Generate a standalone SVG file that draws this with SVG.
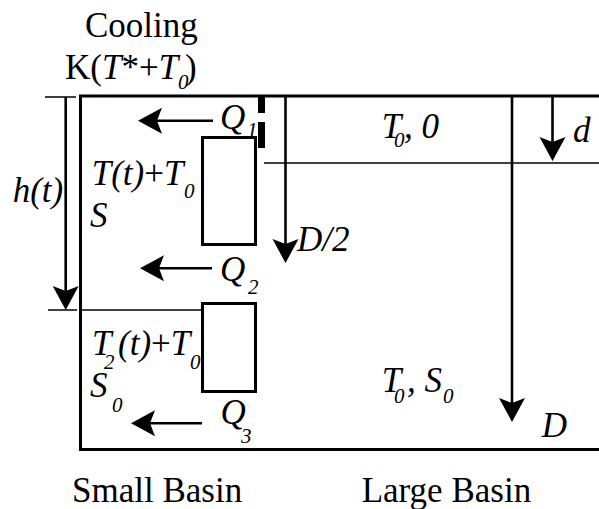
<svg xmlns="http://www.w3.org/2000/svg" width="599" height="509" viewBox="0 0 599 509" font-family="Liberation Serif, serif">
<defs>
<marker id="ah" markerUnits="userSpaceOnUse" viewBox="-15 -15 30 30" markerWidth="30" markerHeight="30" refX="0" refY="0" orient="auto">
<path d="M12,0 L-12,-13 L-7,0 L-12,13 Z" fill="#000"/>
</marker>
</defs>
<rect width="599" height="509" fill="#fff"/>

<g id="basin" fill="none" stroke="#000">
<path stroke-width="3" d="M599,96 H80.5 V449.5 H599"/>
<line stroke-width="1.5" x1="80" y1="310" x2="202" y2="310"/>
<line stroke-width="1.5" x1="264" y1="163" x2="599" y2="163"/>
</g>

<g id="upper-block">
<rect stroke="#000" stroke-width="3" x="202.5" y="137.5" width="53" height="107" fill="#fff"/>
</g>
<g id="lower-block">
<rect stroke="#000" stroke-width="3" x="202.5" y="303.5" width="53" height="88" fill="#fff"/>
</g>
<g id="gate" fill="#000">
<rect x="258" y="96" width="7" height="17"/>
<rect x="258" y="122" width="7" height="26"/>
</g>

<g id="connectors" fill="none" stroke="#000" stroke-width="2.6">
<line marker-end="url(#ah)" x1="65.7" y1="97" x2="65.7" y2="298"/>
<line stroke-width="1.5" x1="45" y1="97" x2="76" y2="97"/>
<line stroke-width="1.5" x1="48" y1="310" x2="77" y2="310"/>
<line marker-end="url(#ah)" x1="213" y1="120.7" x2="150" y2="120.7"/>
<line marker-end="url(#ah)" x1="212" y1="268.3" x2="152" y2="268.3"/>
<line marker-end="url(#ah)" x1="202" y1="423.3" x2="143" y2="423.3"/>
<line marker-end="url(#ah)" x1="285.5" y1="96" x2="285.5" y2="251"/>
<line marker-end="url(#ah)" x1="512" y1="96" x2="512" y2="410"/>
<line marker-end="url(#ah)" x1="552.5" y1="96" x2="552.5" y2="149"/>
</g>

<g id="cooling-label">
<text style="font-family:'Liberation Serif',serif" font-size="35" x="85" y="36.5">Cooling</text>
<text style="font-family:'Liberation Serif',serif" font-size="35" x="65" y="78.5">K(<tspan font-style="italic">T</tspan>*+<tspan font-style="italic">T</tspan><tspan font-size="21" font-style="italic" x="178" y="89">0</tspan><tspan x="185" y="78.5">)</tspan></text>
</g>

<g id="small-basin-upper">
<text style="font-family:'Liberation Serif',serif" font-size="35" font-style="italic" x="12.7" y="201.7">h(t)</text>
<text style="font-family:'Liberation Serif',serif" font-size="35" x="91.7" y="185"><tspan font-style="italic">T(t)</tspan>+<tspan font-style="italic">T</tspan><tspan font-size="21" font-style="italic" x="184" y="198">0</tspan></text>
<text style="font-family:'Liberation Serif',serif" font-size="35" font-style="italic" x="90" y="227.3">S</text>
<text style="font-family:'Liberation Serif',serif" font-size="35" font-style="italic" x="220" y="129">Q</text>
<text style="font-family:'Liberation Serif',serif" font-size="21" font-style="italic" x="247" y="137">1</text>
<text style="font-family:'Liberation Serif',serif" font-size="35" font-style="italic" x="220" y="281">Q</text>
<text style="font-family:'Liberation Serif',serif" font-size="21" font-style="italic" x="248" y="294">2</text>
</g>

<g id="small-basin-lower">
<text style="font-family:'Liberation Serif',serif" font-size="35" x="92" y="355"><tspan font-style="italic">T</tspan><tspan font-size="21" font-style="italic" x="104" y="369">2</tspan><tspan font-style="italic" x="118" y="355">(t)</tspan>+<tspan font-style="italic">T</tspan><tspan font-size="21" font-style="italic" x="190" y="369">0</tspan></text>
<text style="font-family:'Liberation Serif',serif" font-size="35" font-style="italic" x="90" y="397">S</text>
<text style="font-family:'Liberation Serif',serif" font-size="21" font-style="italic" x="112" y="412">0</text>
<text style="font-family:'Liberation Serif',serif" font-size="35" font-style="italic" x="220.5" y="424">Q</text>
<text style="font-family:'Liberation Serif',serif" font-size="21" font-style="italic" x="241" y="443">3</text>
</g>

<g id="large-basin">
<text style="font-family:'Liberation Serif',serif" font-size="35" x="381.7" y="138.3"><tspan font-style="italic">T</tspan><tspan font-size="21" font-style="italic" x="394" y="147">0</tspan><tspan font-style="italic" x="404" y="138.3">, 0</tspan></text>
<text style="font-family:'Liberation Serif',serif" font-size="35" font-style="italic" x="573" y="141.7">d</text>
<text style="font-family:'Liberation Serif',serif" font-size="35" font-style="italic" x="297" y="250.5">D/2</text>
<text style="font-family:'Liberation Serif',serif" font-size="35" x="381.7" y="391.7"><tspan font-style="italic">T</tspan><tspan font-size="21" font-style="italic" x="394" y="403">0</tspan><tspan font-style="italic" x="407" y="391.7">, S</tspan><tspan font-size="21" font-style="italic" x="443" y="403">0</tspan></text>
<text style="font-family:'Liberation Serif',serif" font-size="35" font-style="italic" x="541.7" y="436.7">D</text>
</g>

<g id="captions">
<text style="font-family:'Liberation Serif',serif" font-size="35" x="72" y="502">Small Basin</text>
<text style="font-family:'Liberation Serif',serif" font-size="35" x="361.7" y="502">Large Basin</text>
</g>
</svg>
